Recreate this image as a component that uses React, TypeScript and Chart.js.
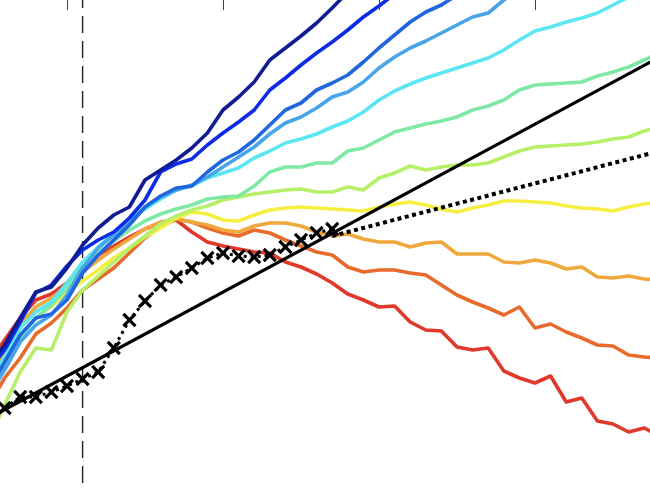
import React, { useEffect, useRef } from "react";
import { Chart, registerables } from "chart.js";

Chart.register(...registerables);

// Years (x categories)
const years = [
  1975, 1976, 1977, 1978, 1979, 1980, 1981, 1982, 1983, 1984, 1985, 1986, 1987, 1988, 1989,
  1990, 1991, 1992, 1993, 1994, 1995, 1996, 1997, 1998, 1999, 2000, 2001, 2002, 2003, 2004,
  2005, 2006, 2007, 2008, 2009, 2010, 2011, 2012, 2013, 2014, 2015, 2016, 2017, 2018,
];
const tickYears = [1980, 1990, 2000, 2010];
const markerYear = 1981;

// Scenario series (values in arbitrary index units)
const navy = [123, 143, 170, 196, 201, 220, 243, 260, 273, 281, 308, 318, 328, 340, 355, 378, 391, 406, 428, 440, 452, 465, 480, 496, 510, 524];
const blue = [118, 138, 166, 195, 203, 222, 238, 248, 256, 270, 288, 316, 324, 329, 343, 355, 366, 378, 398, 410, 423, 435, 446, 458, 471, 482, 494, 506];
const midBlue = [98, 126, 153, 170, 174, 188, 215, 233, 248, 263, 281, 292, 300, 302, 316, 328, 336, 348, 363, 378, 385, 398, 405, 413, 426, 440, 453, 466, 476, 483, 493, 503];
const lightBlue = [93, 118, 146, 163, 173, 193, 220, 240, 253, 266, 281, 291, 298, 303, 311, 321, 331, 341, 354, 365, 371, 380, 391, 396, 406, 420, 431, 440, 447, 455, 463, 471, 475, 488, 498, 508];
const cyan = [103, 131, 160, 176, 186, 205, 226, 241, 255, 268, 279, 289, 298, 302, 310, 315, 320, 330, 337, 345, 349, 354, 361, 367, 376, 388, 397, 404, 410, 415, 420, 425, 430, 438, 448, 457, 461, 466, 470, 475, 483, 491, 499];
const mint = [93, 121, 150, 170, 183, 200, 220, 235, 247, 258, 267, 274, 279, 283, 289, 291, 292, 302, 316, 321, 321, 325, 325, 337, 340, 348, 356, 360, 364, 367, 371, 378, 382, 388, 398, 403, 404, 405, 406, 412, 416, 421, 428, 435];
const lime = [48, 83, 116, 140, 138, 176, 198, 212, 226, 240, 252, 264, 272, 278, 282, 288, 291, 294, 296, 298, 299, 296, 296, 301, 298, 310, 315, 322, 318, 321, 323, 323, 325, 331, 337, 341, 342, 343, 344, 346, 349, 351, 357, 361];
const yellow = [98, 126, 153, 170, 182, 195, 207, 218, 230, 240, 251, 260, 270, 276, 274, 268, 267, 273, 278, 280, 281, 280, 279, 278, 277, 281, 284, 286, 283, 279, 276, 280, 283, 287, 287, 286, 285, 282, 280, 279, 277, 281, 284, 286];
const orange = [110, 136, 163, 181, 190, 202, 216, 228, 239, 249, 259, 266, 269, 266, 263, 258, 256, 262, 265, 265, 262, 256, 252, 254, 249, 246, 246, 241, 245, 246, 234, 234, 234, 226, 225, 228, 225, 219, 221, 211, 210, 212, 209, 208];
const darkOrange = [83, 110, 130, 154, 165, 180, 198, 209, 220, 235, 250, 262, 269, 266, 260, 255, 252, 258, 255, 248, 242, 236, 233, 221, 216, 218, 218, 215, 213, 203, 193, 186, 180, 173, 181, 160, 164, 156, 150, 143, 142, 133, 131, 130];
const red = [126, 148, 170, 188, 194, 205, 221, 233, 242, 251, 259, 265, 268, 256, 246, 242, 239, 236, 235, 226, 221, 214, 205, 194, 188, 181, 182, 166, 158, 157, 141, 138, 140, 117, 110, 105, 112, 86, 90, 67, 64, 56, 60, 52];

// Observations
const obsYears = [1976, 1977, 1978, 1979, 1980, 1981, 1982, 1983, 1984, 1985, 1986, 1987, 1988, 1989, 1990, 1991, 1992, 1993, 1994, 1995, 1996, 1997];
const obs = [80, 91, 91, 96, 102, 109, 116, 140, 168, 187, 203, 211, 220, 230, 235, 232, 231, 233, 241, 248, 255, 259];

// Trend projection (dotted) and linear reference (solid)
const trendYears = [1997, 2018];
const trend = [252, 337];
const refYears = [1975, 2018];
const ref = [70, 431];

const seriesList = [
  { data: navy, color: "#111c92" },
  { data: blue, color: "#0b2ce4" },
  { data: midBlue, color: "#2066e0" },
  { data: lightBlue, color: "#48a4e8" },
  { data: cyan, color: "#5ce6f2" },
  { data: mint, color: "#80e8a6" },
  { data: lime, color: "#b6f068" },
  { data: yellow, color: "#f6ee40" },
  { data: orange, color: "#efa83c" },
  { data: darkOrange, color: "#e86a2c" },
  { data: red, color: "#e0382a" },
];

const pxPerYear = 15.6;
const xMin = 1980 - 67 / pxPerYear;
const xMax = xMin + 650 / pxPerYear;

const topTicks = {
  id: "topTicks",
  afterDatasetsDraw(chart: any) {
    const { ctx, chartArea, scales } = chart;
    ctx.save();
    ctx.strokeStyle = "#444";
    ctx.lineWidth = 1;
    for (const t of tickYears) {
      const px = Math.round(scales.x.getPixelForValue(t)) + 0.5;
      ctx.beginPath();
      ctx.moveTo(px, chartArea.top);
      ctx.lineTo(px, chartArea.top + 10);
      ctx.stroke();
    }
    ctx.restore();
  },
};

export default function App() {
  const ref1 = useRef<HTMLCanvasElement | null>(null);

  useEffect(() => {
    if (!ref1.current) return;
    const pts = (xs: number[], ys: number[]) => ys.map((v, i) => ({ x: xs[i], y: v }));

    const datasets: any[] = [
      {
        data: pts(obsYears, obs),
        borderColor: "#000",
        borderWidth: 3,
        borderDash: [3, 4],
        pointStyle: "crossRot",
        pointRadius: 8.5,
        pointBorderWidth: 3.2,
        pointBorderColor: "#000",
        fill: false,
      },
      {
        data: pts(trendYears, trend),
        borderColor: "#000",
        borderWidth: 4,
        borderDash: [4, 3.5],
        borderCapStyle: "butt",
        pointRadius: 0,
      },
      {
        data: pts(refYears, ref),
        borderColor: "#000",
        borderWidth: 3.2,
        pointRadius: 0,
      },
      ...seriesList.map((s) => ({
        data: pts(years, s.data),
        borderColor: s.color,
        borderWidth: 3.6,
        borderJoinStyle: "round",
        borderCapStyle: "round",
        pointRadius: 0,
      })),
      {
        data: [
          { x: markerYear, y: -20 },
          { x: markerYear, y: 520 },
        ],
        borderColor: "#222",
        borderWidth: 1.4,
        borderDash: [17, 8],
        pointRadius: 0,
      },
    ];

    const chart = new Chart(ref1.current, {
      type: "line",
      data: { datasets },
      options: {
        animation: false,
        responsive: false,
        maintainAspectRatio: false,
        devicePixelRatio: 1,
        layout: { padding: 0, autoPadding: false },
        plugins: { legend: { display: false }, tooltip: { enabled: false } },
        scales: {
          x: { type: "linear", min: xMin, max: xMax, display: false },
          y: { type: "linear", min: 0, max: 488, display: false },
        },
      },
      plugins: [topTicks],
    });
    return () => chart.destroy();
  }, []);

  return (
    <div style={{ position: "fixed", left: 0, top: 0, width: 650, height: 488, background: "#fff" }}>
      <canvas ref={ref1} width={650} height={488} style={{ width: 650, height: 488, display: "block" }} />
    </div>
  );
}
